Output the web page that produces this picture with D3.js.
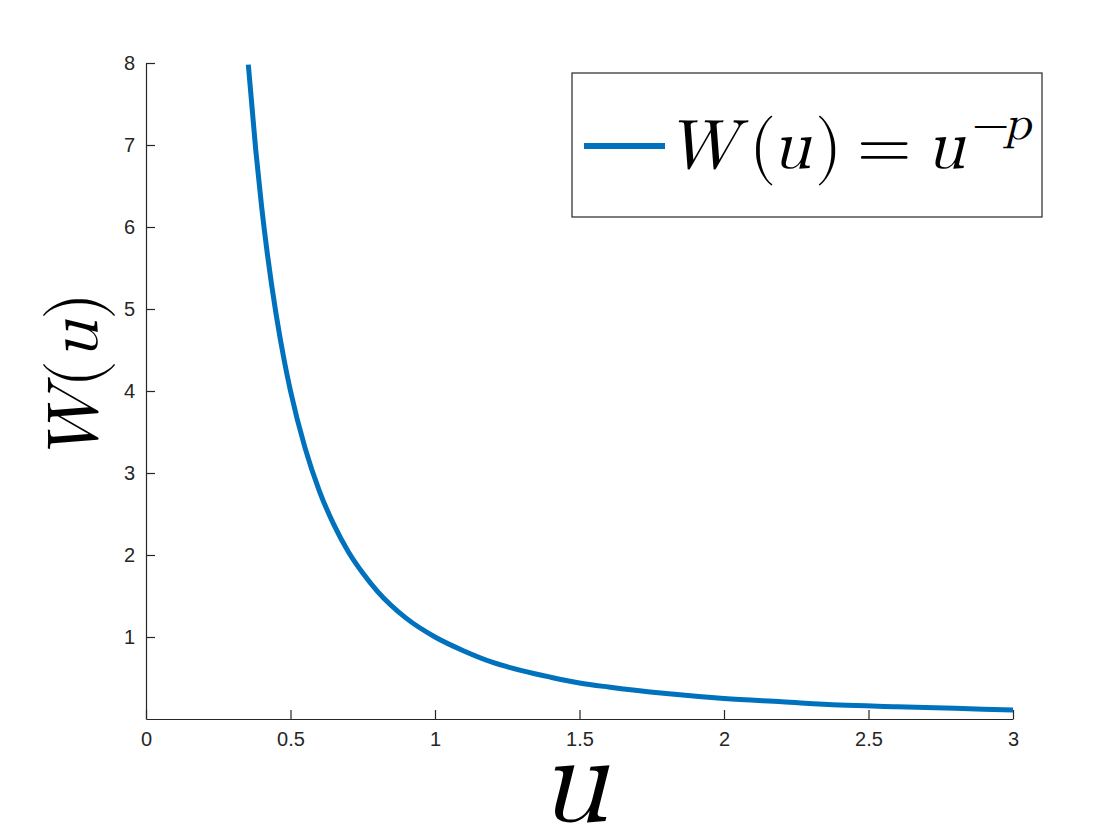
<!DOCTYPE html>
<html>
<head>
<meta charset="utf-8">
<script src="https://cdn.jsdelivr.net/npm/d3@7"></script>
<style>
  body { margin: 0; background: #fff; }
</style>
</head>
<body>
<svg width="1120" height="840"></svg>
<script>
// ---- Data ----
const uVals = [0.354, 0.38, 0.4, 0.42, 0.45, 0.48, 0.5, 0.55, 0.6, 0.65, 0.7, 0.75, 0.8, 0.9,
               1.0, 1.1, 1.2, 1.3, 1.4, 1.5, 1.6, 1.8, 2.0, 2.2, 2.4, 2.6, 2.8, 3.0];
const wVals = [7.98, 6.93, 6.25, 5.67, 4.94, 4.34, 4.0, 3.31, 2.78, 2.37, 2.04, 1.78, 1.56, 1.23,
               1.0, 0.83, 0.69, 0.59, 0.51, 0.44, 0.39, 0.31, 0.25, 0.21, 0.17, 0.15, 0.13, 0.11];
const xTicks = [0, 0.5, 1, 1.5, 2, 2.5, 3];
const yTicks = [1, 2, 3, 4, 5, 6, 7, 8];

const MATH = "Latin Modern Math";
const SANS = "Liberation Sans";

const svg = d3.select("svg");
const x = d3.scaleLinear().domain([0, 3]).range([146, 1013]);
const y = d3.scaleLinear().domain([0, 8]).range([719, 63]);

// ---- Axes (ticks point inward, no box) ----
svg.append("g")
    .attr("transform", `translate(0,${y(0)})`)
    .call(d3.axisBottom(x).tickValues(xTicks).tickFormat(d3.format("")).tickSizeInner(-9).tickSizeOuter(0).tickPadding(13));
svg.append("g")
    .attr("transform", `translate(${x(0)},0)`)
    .call(d3.axisLeft(y).tickValues(yTicks).tickSizeInner(-9).tickSizeOuter(0).tickPadding(11));
svg.selectAll(".domain").attr("stroke", "#262626").attr("stroke-width", 1.2);
svg.selectAll(".tick line").attr("stroke", "#262626").attr("stroke-width", 1.2);
svg.selectAll(".tick text")
    .style("font-family", SANS)
    .style("font-size", "20px")
    .attr("fill", "#262626");

// ---- Curve ----
svg.append("clipPath").attr("id", "plot")
  .append("rect").attr("x", x(0)).attr("y", y(8)).attr("width", x(3) - x(0)).attr("height", y(0) - y(8));

const pts = uVals.map((u, i) => [u, wVals[i]]);
svg.append("path")
    .datum(pts)
    .attr("clip-path", "url(#plot)")
    .attr("fill", "none")
    .attr("stroke", "#0072BD")
    .attr("stroke-width", 5)
    .attr("d", d3.line().x(d => x(d[0])).y(d => y(d[1])).curve(d3.curveMonotoneX));

// ---- Axis labels ----
svg.append("text")
    .attr("x", 573).attr("y", 821)
    .attr("text-anchor", "middle")
    .attr("font-family", MATH)
    .attr("font-size", 126)
    .attr("font-style", "italic")
    .text("u");

const yl = svg.append("text")
    .attr("transform", "translate(97,377) rotate(-90)")
    .attr("text-anchor", "middle")
    .attr("font-family", MATH)
    .attr("font-size", 72);
yl.append("tspan").attr("font-style", "italic").text("W");
yl.append("tspan").text("(");
yl.append("tspan").attr("font-style", "italic").text("u");
yl.append("tspan").text(")");

// ---- Legend ----
const lg = svg.append("g");
lg.append("rect")
    .attr("x", 572).attr("y", 73).attr("width", 470).attr("height", 144)
    .attr("fill", "#fff").attr("stroke", "#262626").attr("stroke-width", 1.2);
lg.append("line")
    .attr("x1", 584).attr("x2", 665).attr("y1", 146).attr("y2", 146)
    .attr("stroke", "#0072BD").attr("stroke-width", 6);
const lt = lg.append("text")
    .attr("y", 168)
    .attr("font-family", MATH)
    .attr("font-size", 70);
lt.append("tspan").attr("x", 666).attr("font-style", "italic").text("W");
lt.append("tspan").attr("x", 749).text("(");
lt.append("tspan").attr("x", 772).attr("font-style", "italic").text("u");
lt.append("tspan").attr("x", 815).text(")");
lt.append("tspan").attr("x", 857).text("=");
lt.append("tspan").attr("x", 926).attr("font-style", "italic").text("u");
lt.append("tspan").attr("x", 972).attr("dy", -29).attr("font-size", 48).text("\u2212");
lt.append("tspan").attr("x", 1004).attr("font-size", 48).attr("font-style", "italic").text("p");
</script>
</body>
</html>
